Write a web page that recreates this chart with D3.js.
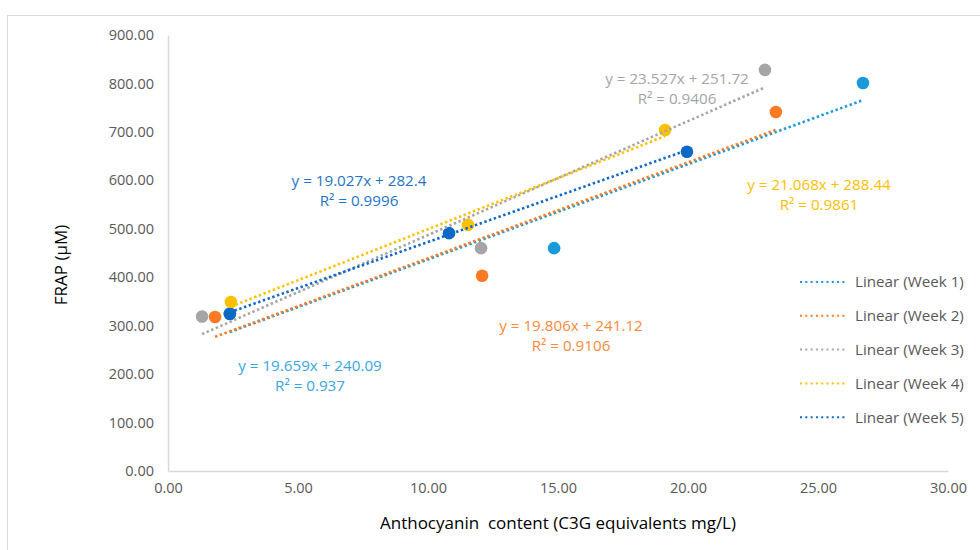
<!DOCTYPE html>
<html>
<head>
<meta charset="utf-8">
<script src="https://cdn.jsdelivr.net/npm/d3@7"></script>
<style>
  body { margin: 0; background: #fff; }
  svg { font-family: "Open Sans", "DejaVu Sans", sans-serif; }
</style>
</head>
<body>
<div id="chart"></div>
<script>
// Chart data
var weeks = ["Week 1", "Week 2", "Week 3", "Week 4", "Week 5"];
var week1X = [2.38, 14.85, 26.73];
var week1Y = [325, 460, 801];
var week2X = [1.81, 12.08, 23.38];
var week2Y = [318, 403, 741];
var week3X = [1.31, 12.04, 22.96];
var week3Y = [319, 460, 828];
var week4X = [2.42, 11.54, 19.12];
var week4Y = [349, 508, 704];
var week5X = [2.38, 10.81, 19.96];
var week5Y = [324, 491, 659];
var slopes = [19.659, 19.806, 23.527, 21.068, 19.027];
var intercepts = [240.09, 241.12, 251.72, 288.44, 282.4];
var rSquared = ["0.937", "0.9106", "0.9406", "0.9861", "0.9996"];
var xTicks = [0, 5, 10, 15, 20, 25, 30];
var yTicks = [0, 100, 200, 300, 400, 500, 600, 700, 800, 900];

// Dimensions
var width = 980;
var height = 550;
var colors = ["#1a9ad8", "#fb7b25", "#a5a5a5", "#ffc000", "#0e68c6"];
var labelColors = ["#3aa6e0", "#fb8a3c", "#a5a5a5", "#ffc000", "#1f74c8"];
// equation label centres, in pixels
var labelPos = [[310, 366], [571, 326], [677, 79], [819, 185], [359, 181]];

var seriesX = [week1X, week2X, week3X, week4X, week5X];
var seriesY = [week1Y, week2Y, week3Y, week4Y, week5Y];

var svg = d3.select("#chart").append("svg")
  .attr("width", width)
  .attr("height", height);

// chart border
svg.append("rect")
  .attr("x", 7.5).attr("y", 15.5)
  .attr("width", 990).attr("height", 560)
  .attr("fill", "none")
  .attr("stroke", "#d9d9d9")
  .attr("stroke-width", 1);

var x = d3.scaleLinear().domain([0, 30]).range([168, 948]);
var y = d3.scaleLinear().domain([0, 900]).range([471, 35]);

// Axes
var xAxis = svg.append("g")
  .attr("transform", "translate(0," + y(0) + ")")
  .call(d3.axisBottom(x).tickValues(xTicks).tickSize(0).tickPadding(12)
    .tickFormat(d3.format(".2f")));
var yAxis = svg.append("g")
  .attr("transform", "translate(" + x(0) + ",0)")
  .call(d3.axisLeft(y).tickValues(yTicks).tickSize(0).tickPadding(14)
    .tickFormat(d3.format(".2f")));

[xAxis, yAxis].forEach(function(a) {
  a.select(".domain").attr("stroke", "#d9d9d9").attr("stroke-width", 1.5);
  a.selectAll("text")
    .attr("fill", "#595959")
    .style("font-size", "14.5px")
    .style("font-family", "'Open Sans', sans-serif");
});

// Axis titles
svg.append("text")
  .attr("x", 558).attr("y", 529)
  .attr("text-anchor", "middle")
  .attr("fill", "#000")
  .style("font-size", "17px")
  .style("white-space", "pre")
  .text("Anthocyanin  content (C3G equivalents mg/L)");

svg.append("text")
  .attr("transform", "translate(67,265) rotate(-90)")
  .attr("text-anchor", "middle")
  .attr("fill", "#000")
  .style("font-size", "17px")
  .text("FRAP (\u00b5M)");

// Points
weeks.forEach(function(w, i) {
  svg.append("g").selectAll("circle")
    .data(d3.zip(seriesX[i], seriesY[i]))
    .enter().append("circle")
    .attr("cx", function(d) { return x(d[0]); })
    .attr("cy", function(d) { return y(d[1]); })
    .attr("r", 6.3)
    .attr("fill", colors[i]);
});

// Trendlines across each series' x range
weeks.forEach(function(w, i) {
  var x0 = d3.min(seriesX[i]), x1 = d3.max(seriesX[i]);
  svg.append("line")
    .attr("x1", x(x0)).attr("y1", y(slopes[i] * x0 + intercepts[i]))
    .attr("x2", x(x1)).attr("y2", y(slopes[i] * x1 + intercepts[i]))
    .attr("stroke", colors[i])
    .attr("stroke-width", 2.6)
    .attr("stroke-dasharray", "2.4 2.6");
});

// Equation labels
weeks.forEach(function(w, i) {
  var g = svg.append("g")
    .attr("transform", "translate(" + labelPos[i][0] + "," + labelPos[i][1] + ")")
    .attr("fill", labelColors[i])
    .style("font-size", "15.2px")
    .attr("text-anchor", "middle");
  g.append("text").attr("dy", "0.35em")
    .text("y = " + slopes[i] + "x + " + intercepts[i]);
  g.append("text").attr("y", 19.5).attr("dy", "0.35em")
    .text("R\u00b2 = " + rSquared[i]);
});

// Legend
var legend = svg.append("g").selectAll("g")
  .data(weeks)
  .enter().append("g")
  .attr("transform", function(d, i) { return "translate(800," + (282 + i * 33.8) + ")"; });
legend.append("line")
  .attr("x1", 0).attr("x2", 47)
  .attr("stroke", function(d, i) { return colors[i]; })
  .attr("stroke-width", 2)
  .attr("stroke-dasharray", "2 3.3");
legend.append("text")
  .attr("x", 55).attr("dy", "0.35em")
  .attr("fill", "#595959")
  .style("font-size", "15.2px")
  .text(function(d) { return "Linear (" + d + ")"; });
</script>
</body>
</html>
